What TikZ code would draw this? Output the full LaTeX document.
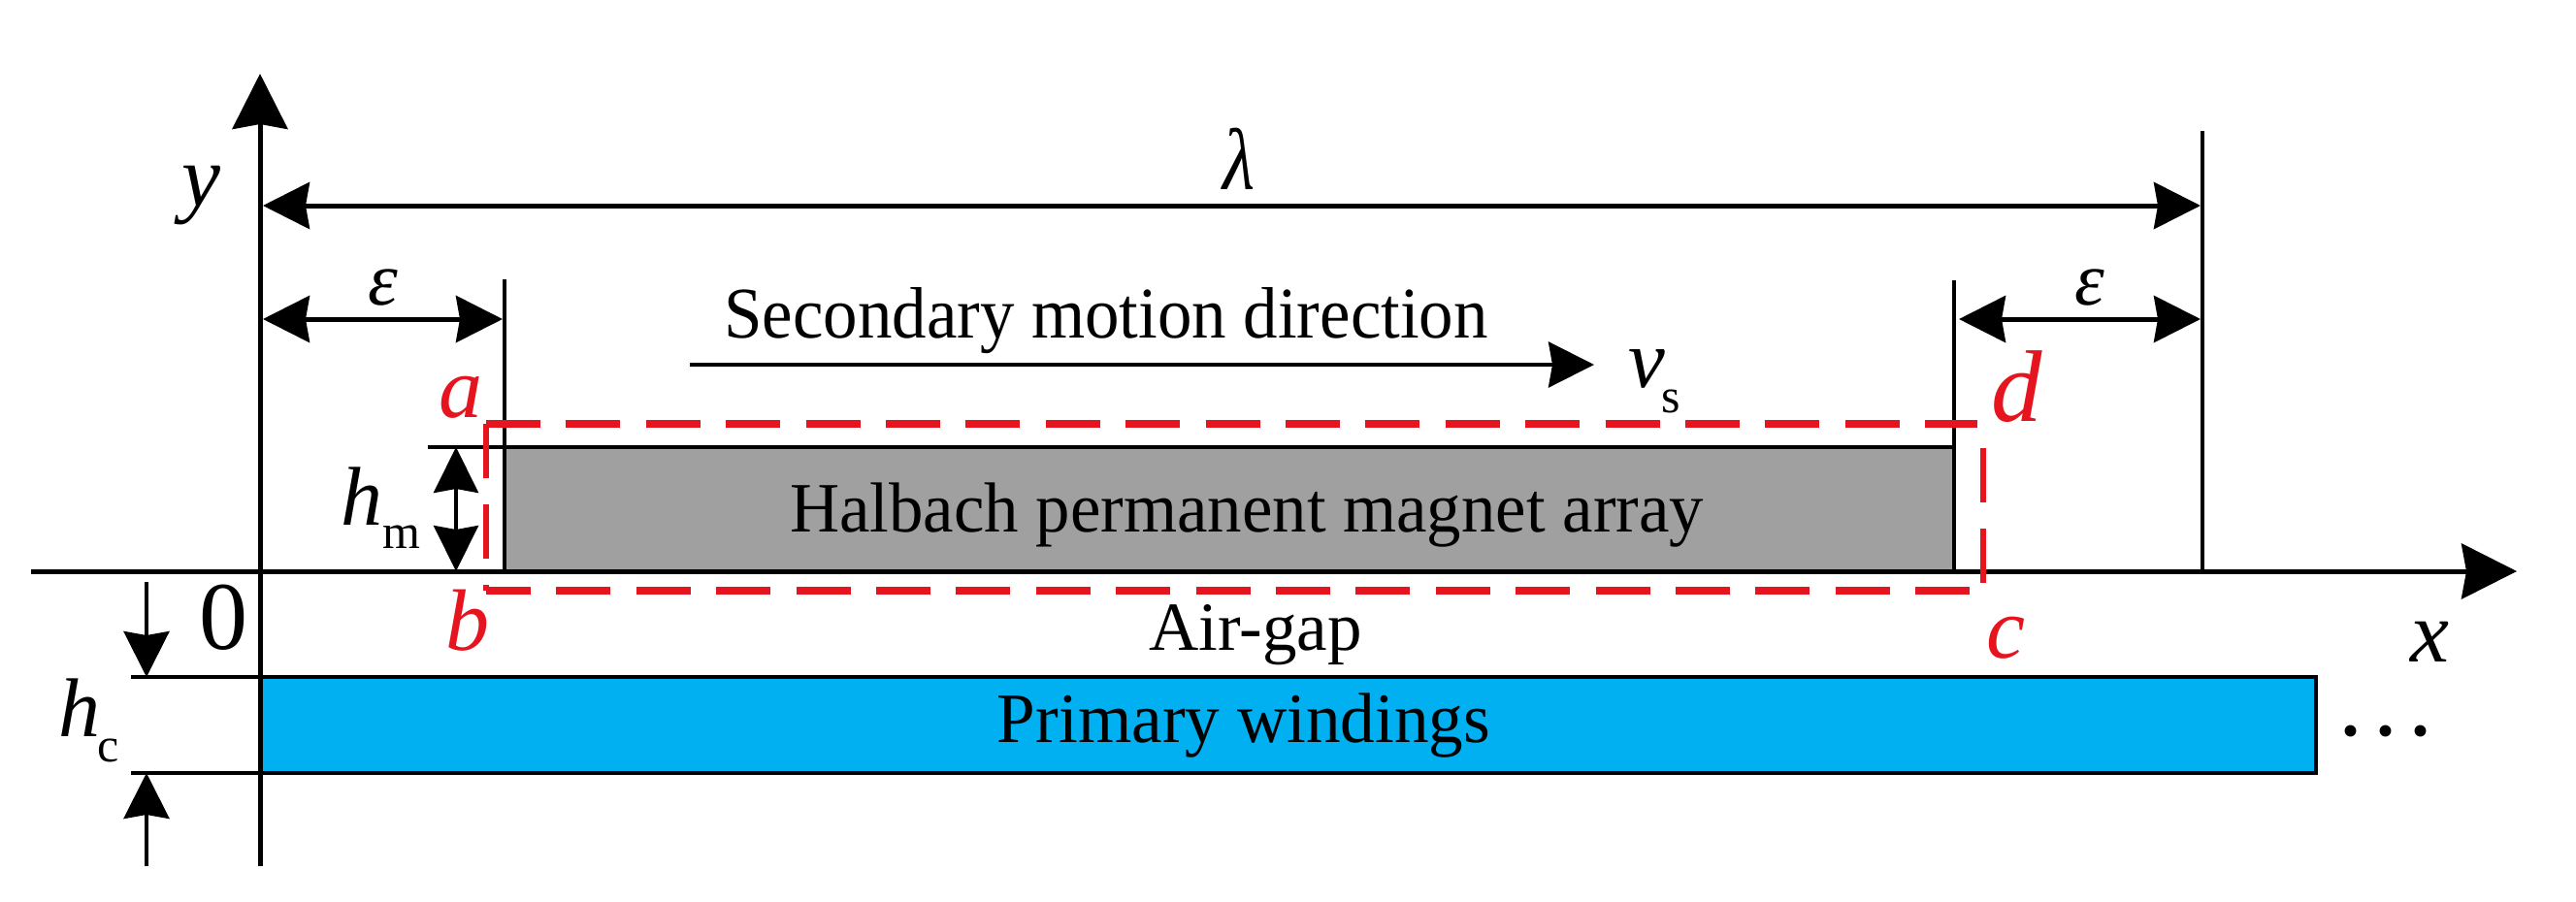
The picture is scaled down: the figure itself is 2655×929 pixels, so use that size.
\documentclass[tikz,border=0pt]{standalone}
\usepackage{graphicx}
\usepackage{fontspec}
\setmainfont{Liberation Serif}
\usetikzlibrary{arrows.meta}
\definecolor{wind}{HTML}{00B0F0}
\definecolor{magnetgray}{HTML}{A0A0A0}
\definecolor{boxred}{HTML}{E6141E}
\newcommand{\fs}[1]{\fontsize{#1}{#1}\selectfont}
\newcommand{\squeezed}[2]{\scalebox{#1}[1]{#2}}
\tikzset{
  x=1pt,y=-1pt,
  lab/.style={inner sep=0pt,anchor=base},
  var/.style={inner sep=0pt,font=\fs{90}\itshape},
  redvar/.style={var,text=boxred},
  smallvar/.style={inner sep=0pt,font=\fs{78}\itshape},
  sub/.style={inner sep=0pt,font=\fs{50}},
  axisline/.style={line width=5pt,-{Stealth[length=57pt,width=57pt,inset=5pt]}},
  dim/.style={line width=5pt,{Stealth[length=48pt,width=48pt,inset=4pt]}-{Stealth[length=48pt,width=48pt,inset=4pt]}},
  dimthin/.style={line width=4pt,{Stealth[length=47pt,width=46pt,inset=4pt]}-{Stealth[length=47pt,width=46pt,inset=4pt]}},
  pointer/.style={line width=4pt,-{Stealth[length=47pt,width=47pt,inset=4pt]}},
  guide/.style={line width=4.5pt},
  redh/.style={draw=boxred,line width=7.5pt,dash pattern=on 56pt off 26.4pt},
  redv/.style={draw=boxred,line width=5.5pt,dash pattern=on 56pt off 27pt},
}
\begin{document}
\begin{tikzpicture}
\useasboundingbox[fill=white] (0,0) rectangle (2655,929);
% key points
\coordinate (ytop) at (268,76);   \coordinate (ybot) at (268,893);
\coordinate (xl) at (32,589);     \coordinate (xr) at (2594,589);
\coordinate (lamL) at (271,212);  \coordinate (lamR) at (2268,212);
\coordinate (lamTop) at (2270,135); \coordinate (lamFoot) at (2270,589);
\coordinate (eLa) at (271,329);   \coordinate (eLb) at (518,329);
\coordinate (eRa) at (2019,329);  \coordinate (eRb) at (2268,329);
\coordinate (gL) at (520,288);    \coordinate (gLf) at (520,589);
\coordinate (gR) at (2014,289);   \coordinate (gRf) at (2014,589);
\coordinate (tmL) at (441,461);   \coordinate (tmR) at (533,461);
\coordinate (hmT) at (470,461);   \coordinate (hmB) at (470,589);
\coordinate (mv1) at (711,376);   \coordinate (mv2) at (1643,376);
\coordinate (t1) at (135,698);    \coordinate (t1e) at (268,698);
\coordinate (t2) at (135,797);    \coordinate (t2e) at (268,797);
\coordinate (p1s) at (151,600);   \coordinate (p1e) at (151,698);
\coordinate (p2s) at (151,893);   \coordinate (p2e) at (151,797);
\coordinate (ra) at (501,437);    \coordinate (rb) at (501,609);
\coordinate (rd) at (2038,437);   \coordinate (rc) at (2030,609);
\coordinate (rva) at (2044,462);  \coordinate (rvb) at (2044,602);
% filled regions
\draw[fill=magnetgray,line width=4pt] (520,461) rectangle (2014,589);
\draw[fill=wind,line width=4pt] (268,698) rectangle (2387,797);
% axes and guides
\draw[axisline] (ybot) -- (ytop);
\draw[axisline] (xl) -- (xr);
\draw[guide] (lamTop) -- (lamFoot);
\draw[guide] (gL) -- (gLf);
\draw[guide] (gR) -- (gRf);
\draw[guide] (tmL) -- (tmR);
\draw[guide] (t1) -- (t1e);
\draw[guide] (t2) -- (t2e);
% dimensions
\draw[dim] (lamL) -- (lamR);
\draw[dim] (eLa) -- (eLb);
\draw[dim] (eRa) -- (eRb);
\draw[dimthin] (hmT) -- (hmB);
\draw[pointer] (mv1) -- (mv2);
\draw[pointer] (p1s) -- (p1e);
\draw[pointer] (p2s) -- (p2e);
% red dashed box
\draw[redh] (ra) -- (rd);
\draw[redh,dash phase=10pt] (rb) -- (rc);
\draw[redv] (ra) -- (rb);
\draw[redv] (rva) -- (rvb);
% labels
\node[var] (ylab) at (207,202) {y};
\node[var] (xlab) at (2504,662) {x};
\node[inner sep=0pt,font=\fs{100}] (zero) at (230,637) {0};
\node[inner sep=0pt,font=\fs{90}\itshape] (lam) at (1277,164) {\squeezed{.85}{λ}};
\node[smallvar] (eL) at (395,296) {ε};
\node[smallvar] (eR) at (2154,296) {ε};
\node[redvar] (alab) at (475,410) {a};
\node[redvar] (blab) at (482,640) {b};
\node[redvar] (clab) at (2067,658) {c};
\node[redvar,font=\fs{105}\itshape] (dlab) at (2079,399) {d};
\node[var,font=\fs{86}\itshape] (hm) at (373,512) {h};
\node[sub] (hmsub) at (414,554) {m};
\node[var,font=\fs{86}\itshape] (hc) at (82,730) {h};
\node[sub] (hcsub) at (112,774) {c};
\node[var,font=\fs{85}\itshape] (vs) at (1697,380) {v};
\node[sub] (vssub) at (1722,414) {s};
\node[lab,font=\fs{75}] (motion) at (1140,348) {\squeezed{.945}{Secondary motion direction}};
\node[lab,font=\fs{73}] (halbach) at (1285,548) {\squeezed{.97}{Halbach permanent magnet array}};
\node[lab,font=\fs{71}] (gap) at (1294,670) {Air-gap};
\node[lab,font=\fs{73}] (prim) at (1282,765) {\squeezed{.975}{Primary windings}};
\node[inner sep=0pt,anchor=base,font=\fs{100}] (dots) at (2459,758) {.\kern11pt.\kern11pt.};
\end{tikzpicture}
\end{document}
